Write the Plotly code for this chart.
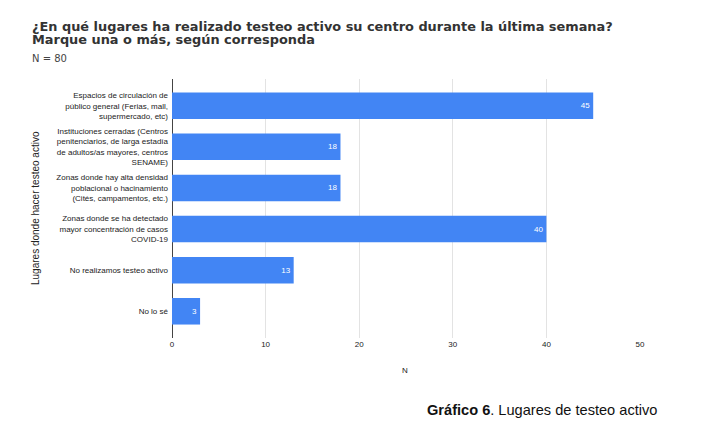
import plotly.graph_objects as go

categorias = [
    "Espacios de circulación de<br>público general (Ferias, mall,<br>supermercado, etc)",
    "Instituciones cerradas (Centros<br>penitenciarios, de larga estadía<br>de adultos/as mayores, centros<br>SENAME)",
    "Zonas donde hay alta densidad<br>poblacional o hacinamiento<br>(Cités, campamentos, etc.)",
    "Zonas donde se ha detectado<br>mayor concentración de casos<br>COVID-19",
    "No realizamos testeo activo",
    "No lo sé",
]
valores = [45, 18, 18, 40, 13, 3]
x_ticks = [0, 10, 20, 30, 40, 50]

fig = go.Figure()

fig.add_trace(go.Bar(
    x=valores, y=categorias, orientation='h',
    marker=dict(color='#4285f4', line=dict(width=0)),
    text=valores, textposition='inside', insidetextanchor='end',
    textfont=dict(family='Liberation Sans, Arial', size=8, color='white'),
    constraintext='none', textangle=0,
    hoverinfo='skip',
))

# la pagina tiene 8px de margen, el area del grafico queda en x 172..640, y 79..338
def px_x(X):
    return (X - 172) / 468

def px_y(Y):
    return (338 - Y) / 259

fig.update_layout(
    width=695, height=422,
    margin=dict(l=164, r=63, t=71, b=92),
    plot_bgcolor='white', paper_bgcolor='white',
    bargap=0.355,
    showlegend=False,
    font=dict(family='Liberation Sans, Arial', size=8, color='#222'),
    xaxis=dict(
        range=[0, 50], tickvals=x_ticks, automargin=False,
        showgrid=True, gridcolor='#e3e3e3', gridwidth=1,
        zeroline=True, zerolinecolor='#444', zerolinewidth=1,
        showline=False, ticks='',
        tickfont=dict(size=8, color='#222'),
        title=None,
    ),
    yaxis=dict(
        range=[5.65, -0.65], automargin=False,
        showgrid=False, zeroline=False, showline=False, ticks='',
        tickfont=dict(size=8, color='#222'),
        ticklabelstandoff=3,
    ),
)

# titulo
fig.add_annotation(
    text='<b>¿En qué lugares ha realizado testeo activo su centro durante la última semana?</b>',
    xref='paper', yref='paper', x=px_x(30), y=px_y(27), xanchor='left', yanchor='middle',
    showarrow=False, font=dict(family='DejaVu Sans', size=12.9, color='#333'),
)
fig.add_annotation(
    text='<b>Marque una o más, según corresponda</b>',
    xref='paper', yref='paper', x=px_x(30), y=px_y(39.5), xanchor='left', yanchor='middle',
    showarrow=False, font=dict(family='DejaVu Sans', size=12.9, color='#333'),
)
fig.add_annotation(
    text='N = 80',
    xref='paper', yref='paper', x=px_x(30), y=px_y(59), xanchor='left', yanchor='middle',
    showarrow=False, font=dict(family='DejaVu Sans', size=10, color='#444'),
)

# titulos de ejes
fig.add_annotation(
    text='Lugares donde hacer testeo activo',
    xref='paper', yref='paper', x=px_x(35), y=px_y(208), xanchor='center', yanchor='middle',
    textangle=-90, showarrow=False, font=dict(size=10, color='#222'),
)
fig.add_annotation(
    text='N',
    xref='paper', yref='paper', x=px_x(405), y=px_y(370), xanchor='center', yanchor='middle',
    showarrow=False, font=dict(size=8, color='#222'),
)

# pie de figura
fig.add_annotation(
    text='<b>Gráfico 6</b>. Lugares de testeo activo',
    xref='paper', yref='paper', x=px_x(425), y=px_y(410), xanchor='left', yanchor='middle',
    showarrow=False, font=dict(family='Liberation Sans, Arial', size=14.6, color='#111'),
)

fig.write_html("out.html")
